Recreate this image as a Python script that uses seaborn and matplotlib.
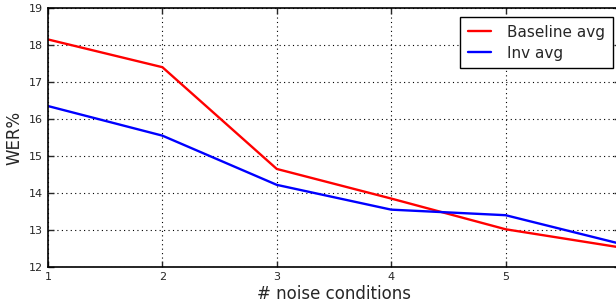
import pandas as pd
import matplotlib
matplotlib.use('Agg')
import matplotlib.pyplot as plt
import seaborn as sns

# data
noise_conditions = [1, 2, 3, 4, 5, 6]
baseline_avg = [18.15, 17.40, 14.65, 13.85, 13.02, 12.53]
inv_avg = [16.35, 15.55, 14.22, 13.55, 13.40, 12.63]

df = pd.DataFrame({
    'n': noise_conditions * 2,
    'wer': baseline_avg + inv_avg,
    'series': ['Baseline avg'] * 6 + ['Inv avg'] * 6,
})

sns.set_style('ticks')
plt.rcParams['font.family'] = ['DejaVu Sans']

fig = plt.figure(figsize=(6.16, 3.04), dpi=100)
ax = fig.add_axes([48 / 616, 1 - 267 / 304, (620 - 48) / 616, (267 - 8) / 304])

sns.lineplot(data=df, x='n', y='wer', hue='series',
             palette={'Baseline avg': 'red', 'Inv avg': 'blue'},
             linewidth=1.7, ax=ax)

ax.set_xlim(1, 6)
ax.set_ylim(12, 19)
# the tick for 6 sits just past the image edge, so only 1-5 are labelled
ax.set_xticks([1, 2, 3, 4, 5])
ax.set_yticks(range(12, 20))
ax.tick_params(direction='in', labelsize=8, length=4, width=1, top=True, right=True)
ax.grid(True, color='black', linestyle=(0, (1, 3)), linewidth=0.8)
for s in ax.spines.values():
    s.set_color('black')
    s.set_linewidth(1.2)

ax.set_xlabel('# noise conditions', fontsize=12, labelpad=2)
ax.set_ylabel('WER%', fontsize=12)

leg = ax.legend(loc='upper right', bbox_to_anchor=(613 / 616, 1 - 17 / 304),
                bbox_transform=fig.transFigure, borderaxespad=0,
                fontsize=11, fancybox=False, framealpha=1, handlelength=1.5,
                handletextpad=1.1, borderpad=0.5, labelspacing=0.4)
leg.get_frame().set_edgecolor('black')
leg.get_frame().set_linewidth(1)

fig.savefig('out.png', dpi=100)
